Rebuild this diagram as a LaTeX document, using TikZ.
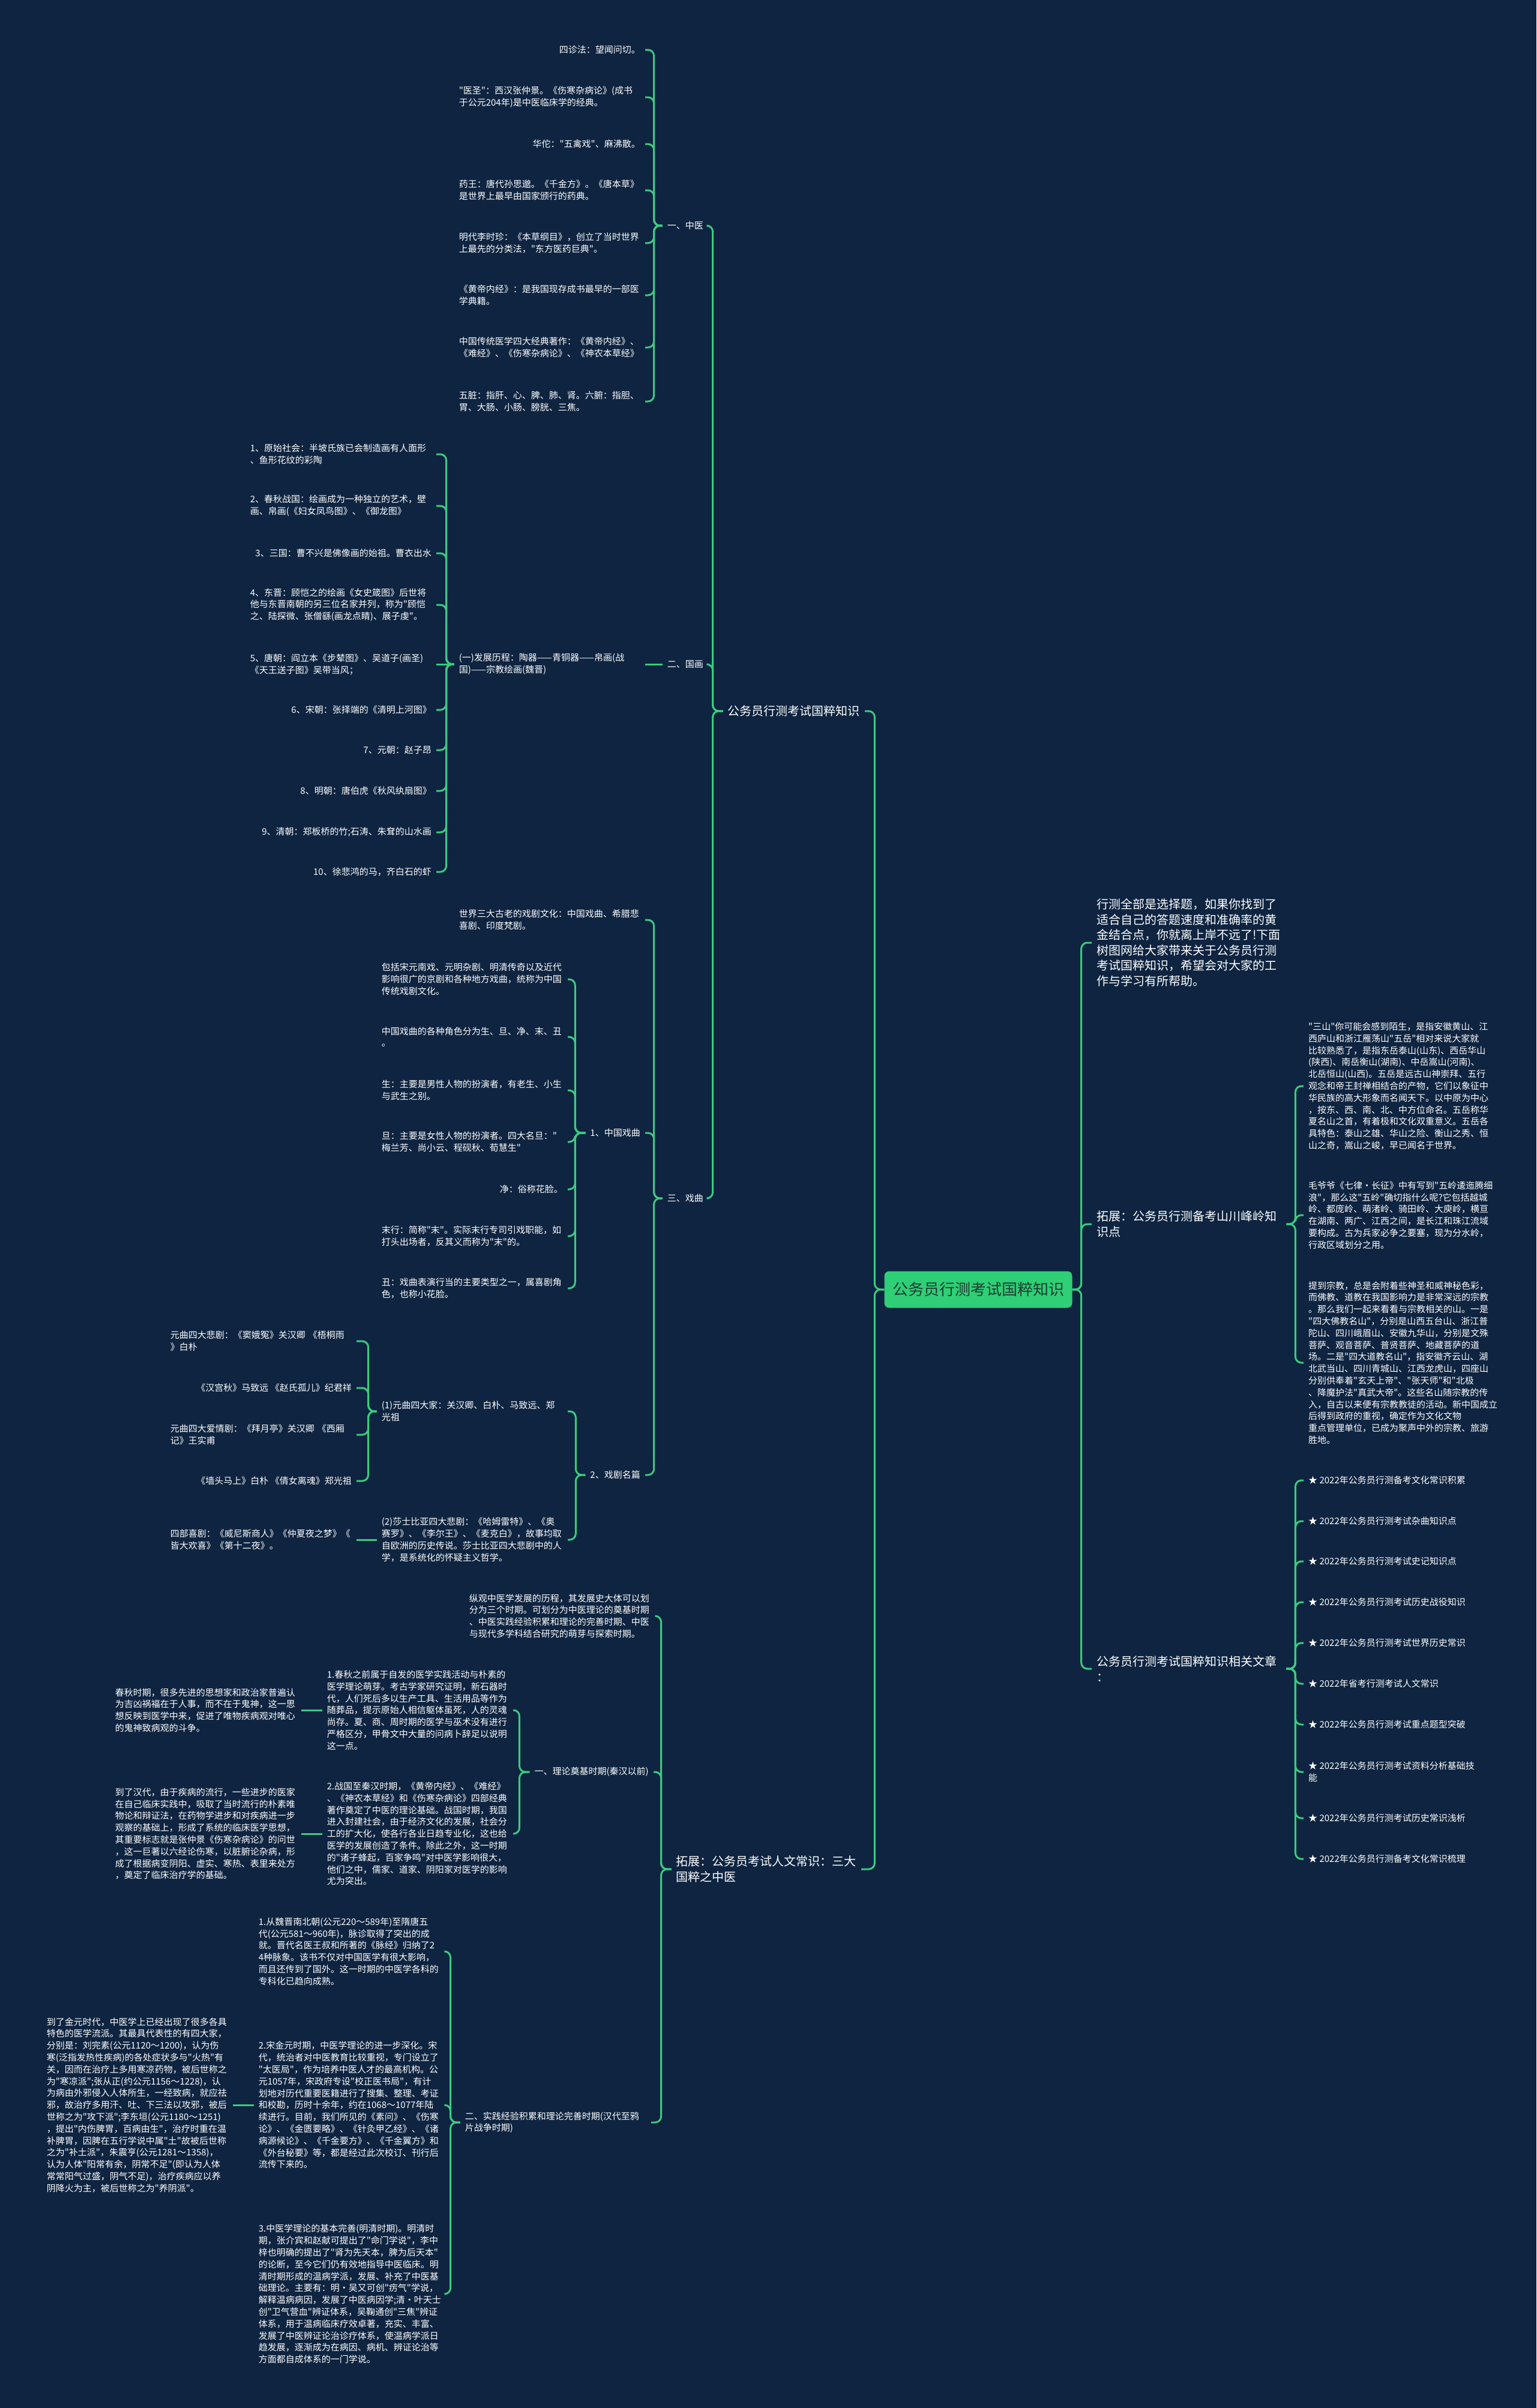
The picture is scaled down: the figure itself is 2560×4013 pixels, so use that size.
\documentclass[tikz,border=0pt]{standalone}
\usepackage{fontspec}
\newfontfamily\cjk{Noto Sans CJK SC}
\definecolor{bgc}{HTML}{0E2440}
\definecolor{lineg}{HTML}{3CCB7F}
\definecolor{rootg}{HTML}{2ECF76}
\definecolor{roott}{HTML}{1E3A30}
\begin{document}
\begin{tikzpicture}[x=1pt,y=-1pt,
 lf/.style={font=\cjk\fontsize{15}{19.8}\selectfont,text=white,align=left,inner xsep=8pt,inner ysep=2pt},
 lw/.style={lf,text width=302pt},
 lbl/.style={font=\cjk\fontsize{20}{25.5}\selectfont,text=white,align=left,inner xsep=8pt,inner ysep=2pt},
 conn/.style={draw=lineg,line width=3pt,rounded corners=10pt},
 rootbox/.style={fill=rootg,rounded corners=8pt,text=roott,font=\cjk\fontsize{26}{30}\selectfont,minimum width=313pt,minimum height=61pt,inner sep=0pt}]
\fill[bgc] (0,0) rectangle (2560,4013);
\useasboundingbox (0,0) rectangle (2560,4013);

% root
\node[rootbox] (root) at (1630,2149) {公务员行测考试国粹知识};

% ===== left side =====
\node[lbl,anchor=east] (A) at (1441,1185) {公务员行测考试国粹知识};
\node[lbl,anchor=east] (B) at (1435,3115) {拓展：公务员考试人文常识：三大\\国粹之中医};

% A children
\node[lf,anchor=east] (A1) at (1180,376) {一、中医};
\node[lf,anchor=east] (A2) at (1180,1107) {二、国画};
\node[lf,anchor=east] (A3) at (1180,1997) {三、戏曲};

% 中医 leaves
\node[lf,anchor=east] (L1) at (1075,83) {四诊法：望闻问切。};
\node[lw,anchor=east] (L2) at (1075,162) {"医圣"：西汉张仲景。《伤寒杂病论》(成书\\于公元204年)是中医临床学的经典。};
\node[lf,anchor=east] (L3) at (1075,240) {华佗："五禽戏"、麻沸散。};
\node[lw,anchor=east] (L4) at (1075,317) {药王：唐代孙思邈。《千金方》。《唐本草》\\是世界上最早由国家颁行的药典。};
\node[lw,anchor=east] (L5) at (1075,405) {明代李时珍：《本草纲目》，创立了当时世界\\上最先的分类法，"东方医药巨典"。};
\node[lw,anchor=east] (L6) at (1075,492) {《黄帝内经》：是我国现存成书最早的一部医\\学典籍。};
\node[lw,anchor=east] (L7) at (1075,579) {中国传统医学四大经典著作：《黄帝内经》、\\《难经》、《伤寒杂病论》、《神农本草经》};
\node[lw,anchor=east] (L8) at (1075,669) {五脏：指肝、心、脾、肺、肾。六腑：指胆、\\胃、大肠、小肠、膀胱、三焦。};

% 国画
\node[lw,anchor=east] (G0) at (1075,1107) {(一)发展历程：陶器——青铜器——帛画(战\\国)——宗教绘画(魏晋)};
\node[lw,anchor=east] (G1) at (727,757) {1、原始社会：半坡氏族已会制造画有人面形\\、鱼形花纹的彩陶};
\node[lw,anchor=east] (G2) at (727,843) {2、春秋战国：绘画成为一种独立的艺术，壁\\画、帛画(《妇女凤鸟图》、《御龙图》};
\node[lf,anchor=east] (G3) at (727,922) {3、三国：曹不兴是佛像画的始祖。曹衣出水};
\node[lw,anchor=east] (G4) at (727,1008) {4、东晋：顾恺之的绘画《女史箴图》后世将\\他与东晋南朝的另三位名家并列，称为"顾恺\\之、陆探微、张僧繇(画龙点睛)、展子虔"。};
\node[lw,anchor=east] (G5) at (727,1107) {5、唐朝：阎立本《步辇图》、吴道子(画圣)\\《天王送子图》吴带当风；};
\node[lf,anchor=east] (G6) at (727,1183) {6、宋朝：张择端的《清明上河图》};
\node[lf,anchor=east] (G7) at (727,1250) {7、元朝：赵子昂};
\node[lf,anchor=east] (G8) at (727,1318) {8、明朝：唐伯虎《秋风纨扇图》};
\node[lf,anchor=east] (G9) at (727,1387) {9、清朝：郑板桥的竹;石涛、朱耷的山水画};
\node[lf,anchor=east] (G10) at (727,1453) {10、徐悲鸿的马，齐白石的虾};

% 戏曲
\node[lw,anchor=east] (X0) at (1075,1533) {世界三大古老的戏剧文化：中国戏曲、希腊悲\\喜剧、印度梵剧。};
\node[lf,anchor=east] (X1) at (1075,1888) {1、中国戏曲};
\node[lf,anchor=east] (X2) at (1075,2458) {2、戏剧名篇};
\node[lw,anchor=east] (XL1) at (946,1632) {包括宋元南戏、元明杂剧、明清传奇以及近代\\影响很广的京剧和各种地方戏曲，统称为中国\\传统戏剧文化。};
\node[lw,anchor=east] (XL2) at (946,1728) {中国戏曲的各种角色分为生、旦、净、末、丑\\。};
\node[lw,anchor=east] (XL3) at (946,1817) {生：主要是男性人物的扮演者，有老生、小生\\与武生之别。};
\node[lw,anchor=east] (XL4) at (946,1903) {旦：主要是女性人物的扮演者。四大名旦："\\梅兰芳、尚小云、程砚秋、荀慧生"};
\node[lf,anchor=east] (XL5) at (946,1982) {净：俗称花脸。};
\node[lw,anchor=east] (XL6) at (946,2060) {末行：简称"末"。实际末行专司引戏职能，如\\打头出场者，反其义而称为"末"的。};
\node[lw,anchor=east] (XL7) at (946,2147) {丑：戏曲表演行当的主要类型之一，属喜剧角\\色，也称小花脸。};
\node[lw,anchor=east] (Y1) at (946,2352) {(1)元曲四大家：关汉卿、白朴、马致远、郑\\光祖};
\node[lw,anchor=east] (Y2) at (946,2566) {(2)莎士比亚四大悲剧：《哈姆雷特》、《奥\\赛罗》、《李尔王》、《麦克白》，故事均取\\自欧洲的历史传说。莎士比亚四大悲剧中的人\\学，是系统化的怀疑主义哲学。};
\node[lw,anchor=east] (Y1a) at (594,2235) {元曲四大悲剧：《窦娥冤》关汉卿 《梧桐雨\\》白朴};
\node[lf,anchor=east] (Y1b) at (594,2313) {《汉宫秋》马致远 《赵氏孤儿》纪君祥};
\node[lw,anchor=east] (Y1c) at (594,2391) {元曲四大爱情剧：《拜月亭》关汉卿 《西厢\\记》王实甫};
\node[lf,anchor=east] (Y1d) at (594,2468) {《墙头马上》白朴 《倩女离魂》郑光祖};
\node[lw,anchor=east] (Y2a) at (594,2566) {四部喜剧：《威尼斯商人》《仲夏夜之梦》《\\皆大欢喜》《第十二夜》。};

% B children
\node[lw,anchor=east] (B0) at (1092,2693) {纵观中医学发展的历程，其发展史大体可以划\\分为三个时期。可划分为中医理论的奠基时期\\、中医实践经验积累和理论的完善时期、中医\\与现代多学科结合研究的萌芽与探索时期。};
\node[lf,anchor=east] (B1) at (1089,2953) {一、理论奠基时期(秦汉以前)};
\node[lw,anchor=east] (B2) at (1085,3537) {二、实践经验积累和理论完善时期(汉代至鸦\\片战争时期)};
\node[lw,anchor=east] (B1a) at (855,2850) {1.春秋之前属于自发的医学实践活动与朴素的\\医学理论萌芽。考古学家研究证明，新石器时\\代，人们死后多以生产工具、生活用品等作为\\随葬品，提示原始人相信躯体虽死，人的灵魂\\尚存。夏、商、周时期的医学与巫术没有进行\\严格区分，甲骨文中大量的问病卜辞足以说明\\这一点。};
\node[lw,anchor=east] (B1a1) at (502,2850) {春秋时期，很多先进的思想家和政治家普遍认\\为吉凶祸福在于人事，而不在于鬼神，这一思\\想反映到医学中来，促进了唯物疾病观对唯心\\的鬼神致病观的斗争。};
\node[lw,anchor=east] (B1b) at (855,3056) {2.战国至秦汉时期，《黄帝内经》、《难经》\\、《神农本草经》和《伤寒杂病论》四部经典\\著作奠定了中医的理论基础。战国时期，我国\\进入封建社会，由于经济文化的发展，社会分\\工的扩大化，使各行各业日趋专业化，这也给\\医学的发展创造了条件。除此之外，这一时期\\的"诸子蜂起，百家争鸣"对中医学影响很大，\\他们之中，儒家、道家、阴阳家对医学的影响\\尤为突出。};
\node[lw,anchor=east] (B1b1) at (502,3056) {到了汉代，由于疾病的流行，一些进步的医家\\在自己临床实践中，吸取了当时流行的朴素唯\\物论和辩证法，在药物学进步和对疾病进一步\\观察的基础上，形成了系统的临床医学思想，\\其重要标志就是张仲景《伤寒杂病论》的问世\\，这一巨著以六经论伤寒，以脏腑论杂病，形\\成了根据病变阴阳、虚实、寒热、表里来处方\\，奠定了临床治疗学的基础。};
\node[lw,anchor=east] (B2a) at (741,3252) {1.从魏晋南北朝(公元220～589年)至隋唐五\\代(公元581～960年)，脉诊取得了突出的成\\就。晋代名医王叔和所著的《脉经》归纳了2\\4种脉象。该书不仅对中国医学有很大影响，\\而且还传到了国外。这一时期的中医学各科的\\专科化已趋向成熟。};
\node[lw,anchor=east] (B2b) at (741,3508) {2.宋金元时期，中医学理论的进一步深化。宋\\代，统治者对中医教育比较重视，专门设立了\\"太医局"，作为培养中医人才的最高机构。公\\元1057年，宋政府专设"校正医书局"，有计\\划地对历代重要医籍进行了搜集、整理、考证\\和校勘，历时十余年，约在1068～1077年陆\\续进行。目前，我们所见的《素问》、《伤寒\\论》、《金匮要略》、《针灸甲乙经》、《诸\\病源候论》、《千金要方》、《千金翼方》和\\《外台秘要》等，都是经过此次校订、刊行后\\流传下来的。};
\node[lw,anchor=east] (B2b1) at (388,3508) {到了金元时代，中医学上已经出现了很多各具\\特色的医学流派。其最具代表性的有四大家，\\分别是：刘完素(公元1120～1200)，认为伤\\寒(泛指发热性疾病)的各处症状多与"火热"有\\关，因而在治疗上多用寒凉药物，被后世称之\\为"寒凉派";张从正(约公元1156～1228)，认\\为病由外邪侵入人体所生，一经致病，就应祛\\邪，故治疗多用汗、吐、下三法以攻邪，被后\\世称之为"攻下派";李东垣(公元1180～1251)\\，提出"内伤脾胃，百病由生"，治疗时重在温\\补脾胃，因脾在五行学说中属"土"故被后世称\\之为"补土派"，朱震亨(公元1281～1358)，\\认为人体"阳常有余，阴常不足"(即认为人体\\常常阳气过盛，阴气不足)，治疗疾病应以养\\阴降火为主，被后世称之为"养阴派"。};
\node[lw,anchor=east] (B2c) at (741,3823) {3.中医学理论的基本完善(明清时期)。明清时\\期，张介宾和赵献可提出了"命门学说"，李中\\梓也明确的提出了"肾为先天本，脾为后天本"\\的论断，至今它们仍有效地指导中医临床。明\\清时期形成的温病学派，发展、补充了中医基\\础理论。主要有：明·吴又可创"疠气"学说，\\解释温病病因，发展了中医病因学;清·叶天士\\创"卫气营血"辨证体系，吴鞠通创"三焦"辨证\\体系，用于温病临床疗效卓著，充实、丰富、\\发展了中医辨证论治诊疗体系，使温病学派日\\趋发展，逐渐成为在病因、病机、辨证论治等\\方面都自成体系的一门学说。};

% ===== right side =====
\node[lbl,anchor=west,text width=308pt] (R1) at (1819,1571) {行测全部是选择题，如果你找到了\\适合自己的答题速度和准确率的黄\\金结合点，你就离上岸不远了!下面\\树图网给大家带来关于公务员行测\\考试国粹知识，希望会对大家的工\\作与学习有所帮助。};
\node[lbl,anchor=west,text width=308pt] (R2) at (1819,2040) {拓展：公务员行测备考山川峰岭知\\识点};
\node[lbl,anchor=west,text width=308pt] (R3) at (1819,2781) {公务员行测考试国粹知识相关文章\\：};

\node[lf,anchor=west] (R2a) at (2172,1810) {"三山"你可能会感到陌生，是指安徽黄山、江\\西庐山和浙江雁荡山"五岳"相对来说大家就\\比较熟悉了，是指东岳泰山(山东)、西岳华山\\(陕西)、南岳衡山(湖南)、中岳嵩山(河南)、\\北岳恒山(山西)。五岳是远古山神崇拜、五行\\观念和帝王封禅相结合的产物，它们以象征中\\华民族的高大形象而名闻天下。以中原为中心\\，按东、西、南、北、中方位命名。五岳称华\\夏名山之首，有着极和文化双重意义。五岳各\\具特色：泰山之雄、华山之险、衡山之秀、恒\\山之奇，嵩山之峻，早已闻名于世界。};
\node[lf,anchor=west] (R2b) at (2172,2025) {毛爷爷《七律·长征》中有写到"五岭逶迤腾细\\浪"，那么这"五岭"确切指什么呢?它包括越城\\岭、都庞岭、萌渚岭、骑田岭、大庾岭，横亘\\在湖南、两广、江西之间，是长江和珠江流域\\要构成。古为兵家必争之要塞，现为分水岭，\\行政区域划分之用。};
\node[lf,anchor=west] (R2c) at (2172,2271) {提到宗教，总是会附着些神圣和威神秘色彩，\\而佛教、道教在我国影响力是非常深远的宗教\\。那么我们一起来看看与宗教相关的山。一是\\"四大佛教名山"，分别是山西五台山、浙江普\\陀山、四川峨眉山、安徽九华山，分别是文殊\\菩萨、观音菩萨、普贤菩萨、地藏菩萨的道\\场。二是"四大道教名山"，指安徽齐云山、湖\\北武当山、四川青城山、江西龙虎山，四座山\\分别供奉着"玄天上帝"、"张天师"和"北极\\、降魔护法"真武大帝"。这些名山随宗教的传\\入，自古以来便有宗教教徒的活动。新中国成立\\后得到政府的重视，确定作为文化文物\\重点管理单位，已成为聚声中外的宗教、旅游\\胜地。};

\node[lf,anchor=west] (S1) at (2172,2467) {★ 2022年公务员行测备考文化常识积累};
\node[lf,anchor=west] (S2) at (2172,2535) {★ 2022年公务员行测考试杂曲知识点};
\node[lf,anchor=west] (S3) at (2172,2602) {★ 2022年公务员行测考试史记知识点};
\node[lf,anchor=west] (S4) at (2172,2670) {★ 2022年公务员行测考试历史战役知识};
\node[lf,anchor=west] (S5) at (2172,2738) {★ 2022年公务员行测考试世界历史常识};
\node[lf,anchor=west] (S6) at (2172,2806) {★ 2022年省考行测考试人文常识};
\node[lf,anchor=west] (S7) at (2172,2874) {★ 2022年公务员行测考试重点题型突破};
\node[lf,anchor=west] (S8) at (2172,2953) {★ 2022年公务员行测考试资料分析基础技\\能};
\node[lf,anchor=west] (S9) at (2172,3030) {★ 2022年公务员行测考试历史常识浅析};
\node[lf,anchor=west] (S10) at (2172,3098) {★ 2022年公务员行测备考文化常识梳理};

% ===== connectors =====
\foreach \c in {A,B} \draw[conn] (root.west) -- ++(-16,0) |- (\c.east);
\foreach \c in {R1,R2,R3} \draw[conn] (root.east) -- ++(15,0) |- (\c.west);
\foreach \c in {A1,A2,A3} \draw[conn] (A.west) -- ++(-17,0) |- (\c.east);
\foreach \c in {L1,L2,L3,L4,L5,L6,L7,L8} \draw[conn] (A1.west) -- ++(-14,0) |- (\c.east);
\draw[conn] (A2.west) -- (G0.east);
\foreach \c in {G1,G2,G3,G4,G6,G7,G8,G9,G10} \draw[conn] (G0.west) -- ++(-13,0) |- (\c.east);
\draw[conn] (G0.west) -- (G5.east);
\foreach \c in {X0,X1,X2} \draw[conn] (A3.west) -- ++(-14,0) |- (\c.east);
\foreach \c in {XL1,XL2,XL3,XL4,XL5,XL6,XL7} \draw[conn] (X1.west) -- ++(-17,0) |- (\c.east);
\foreach \c in {Y1,Y2} \draw[conn] (X2.west) -- ++(-16,0) |- (\c.east);
\foreach \c in {Y1a,Y1b,Y1c,Y1d} \draw[conn] (Y1.west) -- ++(-14,0) |- (\c.east);
\draw[conn] (Y2.west) -- (Y2a.east);
\foreach \c in {B0,B1,B2} \draw[conn] (B.west) -- ++(-17,0) |- (\c.east);
\foreach \c in {B1a,B1b} \draw[conn] (B1.west) -- ++(-17,0) |- (\c.east);
\draw[conn] (B1a.west) -- (B1a1.east);
\draw[conn] (B1b.west) -- (B1b1.east);
\foreach \c in {B2a,B2b,B2c} \draw[conn] (B2.west) -- ++(-16,0) |- (\c.east);
\draw[conn] (B2b.west) -- (B2b1.east);
\foreach \c in {R2a,R2b,R2c} \draw[conn] (R2.east) -- ++(15,0) |- (\c.west);
\foreach \c in {S1,S2,S3,S4,S5,S6,S7,S8,S9,S10} \draw[conn] (R3.east) -- ++(15,0) |- (\c.west);
\end{tikzpicture}
\end{document}
